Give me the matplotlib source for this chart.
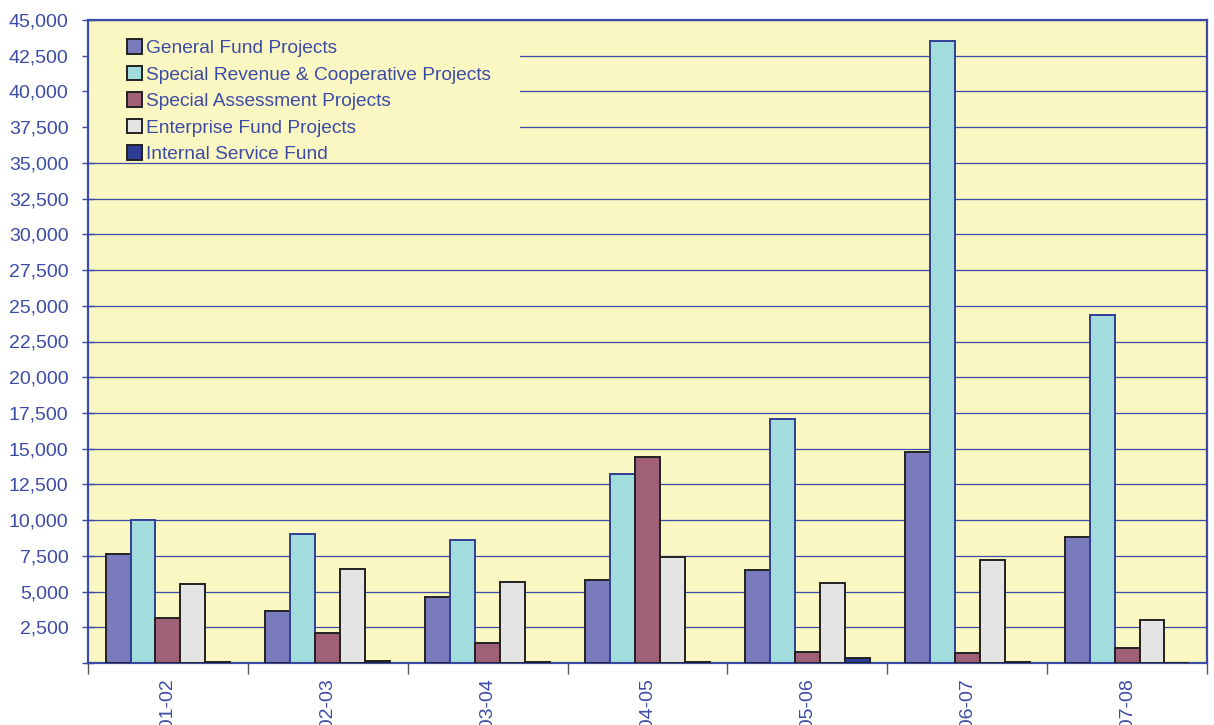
import matplotlib
matplotlib.use("Agg")
import matplotlib.pyplot as plt
import numpy as np
from matplotlib.patches import Rectangle
from matplotlib.ticker import FuncFormatter

# Capital project expenditures by fund type and fiscal year
years = ["2001-02", "2002-03", "2003-04", "2004-05", "2005-06", "2006-07", "2007-08"]
general_fund = [7650, 3650, 4620, 5800, 6500, 14780, 8820]
special_revenue = [10000, 9050, 8620, 13230, 17080, 43550, 24380]
special_assessment = [3150, 2100, 1400, 14450, 750, 680, 1060]
enterprise_fund = [5530, 6580, 5680, 7420, 5600, 7220, 3020]
internal_service = [50, 120, 60, 60, 330, 100, 0]

series_labels = [
    "General Fund Projects",
    "Special Revenue & Cooperative Projects",
    "Special Assessment Projects",
    "Enterprise Fund Projects",
    "Internal Service Fund",
]
series_values = [general_fund, special_revenue, special_assessment,
                 enterprise_fund, internal_service]
face_colors = ["#7a7bbd", "#a3dcdc", "#a06078", "#e4e4e4", "#2e3e96"]
edge_colors = ["#222222", "#2e3e96", "#222222", "#222222", "#222222"]

text_blue = "#3b4ba6"
axis_blue = "#3b4ba6"
bg_yellow = "#fbf7c3"

plt.rcParams["font.family"] = ["Liberation Sans", "DejaVu Sans"]

fig = plt.figure(figsize=(12.14, 7.25), dpi=100)
ax = fig.add_axes([88 / 1214, 62 / 725, 1119 / 1214, 643 / 725])
ax.set_facecolor(bg_yellow)

x = np.arange(len(years))
width = 0.156
offsets = (np.arange(5) - 2) * width
for vals, lab, fc, ec, off in zip(series_values, series_labels,
                                  face_colors, edge_colors, offsets):
    ax.bar(x + off, vals, width=width, color=fc, edgecolor=ec,
           linewidth=1.4, label=lab, zorder=3)

ax.set_xlim(-0.5, len(years) - 0.5)
ax.set_ylim(0, 45000)

yt = np.arange(0, 45001, 2500)
ax.set_yticks(yt)
ax.yaxis.set_major_formatter(FuncFormatter(lambda v, p: "" if v == 0 else f"{int(v):,}"))
ax.grid(axis="y", color=axis_blue, linewidth=0.9, zorder=1)
ax.set_axisbelow(True)

ax.set_xticks(x)
ax.set_xticklabels(years, rotation=90, va="top", ha="center")
ax.set_xticks(np.arange(len(years) + 1) - 0.5, minor=True)
ax.tick_params(axis="x", which="major", length=0, pad=11,
               labelsize=14, labelcolor=text_blue)
ax.tick_params(axis="x", which="minor", length=8, width=1.0,
               color="#555555", direction="out")
ax.tick_params(axis="y", length=9, width=1.0, color=axis_blue,
               direction="inout", labelsize=14, labelcolor=text_blue, pad=9.5)

for s in ax.spines.values():
    s.set_color(axis_blue)
    s.set_linewidth(1.6)

# Yellow panel behind the legend hides the gridlines there
ax.add_patch(Rectangle((0, 0.785), (520 - 88) / 1119, 0.205,
                       transform=ax.transAxes, facecolor=bg_yellow,
                       edgecolor="none", zorder=2))

leg = ax.legend(loc="upper left", bbox_to_anchor=(0.035, 0.97),
                frameon=False, fontsize=13.8, handlelength=0.8,
                handleheight=0.8, handletextpad=0.2, labelspacing=0.44,
                borderpad=0, borderaxespad=0)
for t in leg.get_texts():
    t.set_color(text_blue)
for h in leg.legend_handles:
    h.set_edgecolor("#222222")
    h.set_linewidth(1.4)

fig.savefig("out.png", dpi=100, facecolor="white")
